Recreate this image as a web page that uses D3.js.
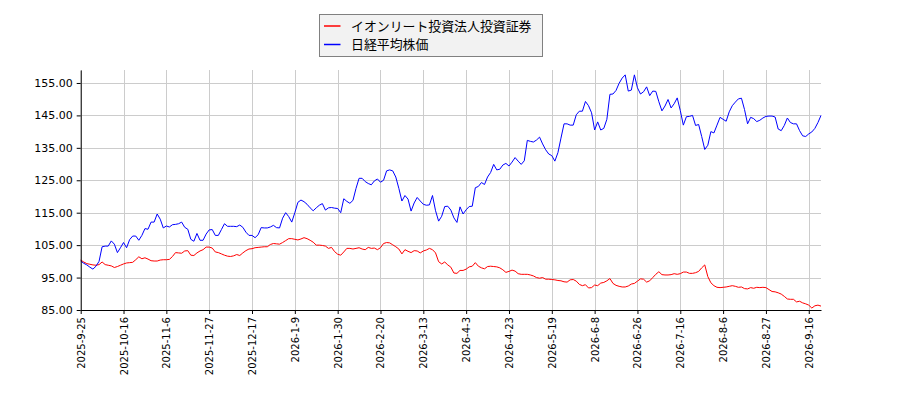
<!DOCTYPE html>
<html>
<head>
<meta charset="utf-8">
<script src="https://cdn.jsdelivr.net/npm/d3@7"></script>
<style>
  body { margin: 0; background: #fff; }
  svg { display: block; }
</style>
</head>
<body>
<div id="chart"></div>
<script>
// series names
const seriesNames = ["イオンリート投資法人投資証券", "日経平均株価"];

// x tick labels, one every 14 trading days
const tickLabels = ["2025-9-25","2025-10-16","2025-11-6","2025-11-27","2025-12-17","2026-1-9","2026-1-30","2026-2-20","2026-3-13","2026-4-3","2026-4-23","2026-5-19","2026-6-8","2026-6-26","2026-7-16","2026-8-6","2026-8-27","2026-9-16"];
const tickStep = 14;

const yTicks = [85, 95, 105, 115, 125, 135, 145, 155];

// relative price (start = 100)
const reit = [
  100.4,99.8,99.3,99.1,98.9,98.8,99.0,99.8,99.0,98.8,
  98.6,98.1,98.4,98.8,99.2,99.5,99.6,99.7,100.5,101.4,
  100.8,101.1,100.7,100.2,100.1,100.1,100.4,100.5,100.5,100.6,
  101.5,102.7,102.6,102.5,103.2,103.3,101.9,101.8,102.6,103.2,
  103.6,104.4,104.4,104.1,102.9,102.7,102.3,101.9,101.6,101.5,
  101.7,102.1,101.8,102.6,103.3,103.8,103.9,104.2,104.3,104.4,
  104.5,104.5,105.2,105.5,105.4,105.3,105.8,106.4,107.0,107.0,
  106.8,106.6,106.9,107.3,107.0,106.5,105.9,105.0,105.0,104.9,
  104.7,104.0,104.3,103.0,102.2,101.9,102.9,104.0,104.0,103.8,
  104.0,104.2,103.8,103.6,104.3,104.0,104.1,103.6,104.2,105.5,
  105.8,105.7,105.1,104.5,103.8,102.3,103.6,103.1,102.7,103.3,
  103.2,102.6,103.2,103.5,104.0,103.6,102.6,99.9,99.2,99.8,
  98.9,98.2,96.4,96.3,97.2,97.2,97.6,98.3,98.5,99.6,
  98.5,98.0,97.7,98.4,98.5,98.4,98.3,98.0,97.4,96.6,
  96.9,97.3,97.0,96.2,96.0,96.0,96.0,95.8,95.5,95.0,
  94.8,95.0,94.5,94.5,94.4,94.3,94.1,94.0,93.7,93.6,
  94.3,94.4,93.9,92.9,92.5,92.8,91.8,91.9,92.7,92.5,
  93.3,93.5,94.0,94.7,93.2,92.6,92.3,92.1,92.1,92.4,
  93.0,93.2,93.9,94.6,94.5,93.6,94.0,95.0,96.0,96.8,
  95.9,95.8,95.8,95.9,96.2,96.0,96.2,96.7,96.7,96.3,
  96.3,96.5,96.9,98.0,98.9,95.3,93.4,92.5,92.0,91.9,
  92.0,92.1,92.3,92.5,92.3,92.0,92.1,91.6,91.5,91.9,
  91.7,92.0,91.9,92.0,91.9,91.3,90.7,90.6,90.3,89.9,
  89.2,88.4,88.3,88.3,87.5,87.7,87.2,86.9,86.5,85.6,
  86.3,86.5,86.2
];

const nikkei = [
  100.1,99.4,98.9,98.2,97.6,98.5,100.0,104.5,104.7,104.7,
  106.3,105.3,102.7,104.2,105.8,104.2,106.7,107.8,107.8,106.5,
  108.0,110.1,109.9,112.1,112.1,114.6,113.0,110.3,110.9,110.6,
  111.3,111.4,111.6,112.1,110.5,109.9,106.8,106.2,108.6,106.5,
  106.5,108.4,109.7,109.8,108.0,108.0,109.8,111.6,110.8,110.8,
  110.8,110.7,111.2,110.5,109.0,108.0,108.0,107.3,108.2,110.4,
  110.3,110.3,110.6,111.1,110.4,110.3,113.3,115.0,113.8,112.1,
  115.0,118.2,118.9,118.4,117.6,116.5,115.6,116.5,117.3,117.8,
  115.8,116.5,116.6,116.4,116.3,115.0,119.3,118.5,117.9,118.8,
  122.5,125.6,125.6,124.6,124.0,123.6,124.8,125.4,124.4,125.0,
  127.9,128.2,127.9,126.0,122.5,118.6,120.3,119.2,115.5,118.0,
  119.7,118.6,117.6,117.3,117.4,120.3,115.6,112.4,113.9,116.9,
  117.0,115.8,113.4,112.0,116.8,114.6,115.9,116.9,117.0,122.7,
  123.1,124.3,123.7,126.0,127.4,129.9,128.2,128.4,129.7,130.2,
  129.4,130.6,132.0,130.9,129.9,131.0,137.3,137.0,136.8,137.4,
  138.3,136.2,134.4,133.1,132.6,130.9,133.5,138.0,142.4,142.4,
  142.0,142.0,145.2,146.3,146.3,149.3,148.0,145.8,140.5,143.0,
  140.5,141.0,143.8,151.5,151.6,152.7,154.9,156.5,157.5,152.5,
  152.8,157.5,153.5,151.6,152.3,153.8,151.1,152.5,152.4,149.2,
  146.4,147.9,149.9,147.3,148.6,150.4,146.5,142.0,144.6,144.7,
  145.0,141.9,142.2,138.5,134.5,135.8,140.0,139.6,142.0,144.4,
  143.8,143.2,146.1,148.0,149.1,150.1,150.3,146.8,142.4,144.4,
  144.0,143.1,143.5,144.2,144.7,144.8,144.8,144.5,140.8,140.3,
  141.9,144.2,142.8,142.4,142.4,140.3,138.7,138.5,139.3,139.9,
  141.0,142.8,145.0
];

const colors = ["#ff0000", "#0000ff"];

const W = 900, H = 400;
const margin = {left: 80.7, right: 79, top: 70, bottom: 90};

const svg = d3.select("#chart").append("svg")
  .attr("width", W)
  .attr("height", H);

const x = d3.scaleLinear()
  .domain([0, reit.length - 1])
  .range([margin.left, W - margin.right]);

const y = d3.scaleLinear()
  .domain([85, 159])
  .range([H - margin.bottom, margin.top]);

const tickIdx = tickLabels.map((d, i) => i * tickStep);

// grid
const grid = svg.append("g").attr("stroke", "#cccccc").attr("stroke-width", 1);
grid.selectAll(".gx").data(tickIdx).join("line")
  .attr("x1", d => Math.round(x(d)) + 0.5).attr("x2", d => Math.round(x(d)) + 0.5)
  .attr("y1", margin.top).attr("y2", H - margin.bottom);
grid.selectAll(".gy").data(yTicks).join("line")
  .attr("x1", margin.left).attr("x2", W - margin.right)
  .attr("y1", d => Math.round(y(d)) + 0.5).attr("y2", d => Math.round(y(d)) + 0.5);

// lines
const line = d3.line()
  .x((d, i) => x(i))
  .y(d => y(d));

[reit, nikkei].forEach((s, k) => {
  svg.append("path")
    .datum(s)
    .attr("fill", "none")
    .attr("stroke", colors[k])
    .attr("stroke-width", 1)
    .attr("d", line);
});

// axes
const xAxis = d3.axisBottom(x)
  .tickValues(tickIdx)
  .tickFormat((d, i) => tickLabels[i])
  .tickSize(4)
  .tickSizeOuter(0);

const gx = svg.append("g")
  .attr("transform", `translate(0,${H - margin.bottom})`)
  .call(xAxis);
gx.select(".domain").attr("stroke", "#000");
gx.selectAll(".tick line").attr("stroke", "#000");
gx.selectAll(".tick text")
  .attr("font-family", "DejaVu Sans, sans-serif")
  .attr("font-size", 10)
  .attr("fill", "#000")
  .attr("text-anchor", "end")
  .attr("transform", "rotate(-90)")
  .attr("x", -7)
  .attr("y", 0)
  .attr("dy", "0.35em");

const yAxis = d3.axisLeft(y)
  .tickValues(yTicks)
  .tickFormat(d3.format(".2f"))
  .tickSize(4)
  .tickSizeOuter(0);

const gy = svg.append("g")
  .attr("transform", `translate(${margin.left},0)`)
  .call(yAxis);
gy.select(".domain").attr("stroke", "#000");
gy.selectAll(".tick line").attr("stroke", "#000");
gy.selectAll(".tick text")
  .attr("font-family", "DejaVu Sans, sans-serif")
  .attr("font-size", 11)
  .attr("fill", "#000")
  .attr("x", -8);

// legend
const lg = svg.append("g").attr("transform", "translate(319.5,14.5)");
lg.append("rect")
  .attr("width", 223).attr("height", 42)
  .attr("fill", "#f2f2f2")
  .attr("stroke", "#808080")
  .attr("stroke-width", 1);
seriesNames.forEach((name, k) => {
  const yy = 11.5 + k * 18.5;
  lg.append("line")
    .attr("x1", 4.5).attr("x2", 21)
    .attr("y1", yy).attr("y2", yy)
    .attr("stroke", colors[k]).attr("stroke-width", 1.5);
  lg.append("text")
    .attr("x", 31.5).attr("y", yy)
    .attr("dy", "0.36em")
    .attr("font-family", "Noto Sans CJK JP, sans-serif")
    .attr("font-size", 12.9)
    .attr("fill", "#000")
    .text(name);
});
</script>
</body>
</html>
